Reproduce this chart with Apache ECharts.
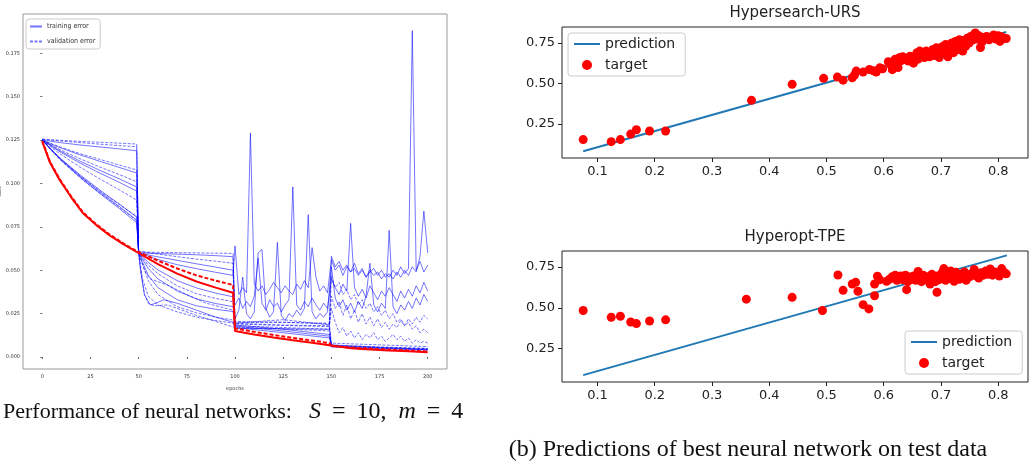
<!DOCTYPE html>
<html>
<head>
<meta charset="utf-8">
<script src="https://cdn.jsdelivr.net/npm/echarts@6.0.0/dist/echarts.min.js"></script>
<style>html,body{margin:0;padding:0;background:#fff}#chart{width:1030px;height:470px}</style>
</head>
<body>
<div id="chart"></div>
<script>
// ---- left panel: cost per epoch, [epoch, cost] ----
const train1 = [[0,0.125],[5,0.1242],[10,0.1234],[20,0.1221],[30,0.1210],[40,0.1199],[49,0.1188],[50,0.0600],[60,0.0596],[70,0.0593],[80,0.0589],[90,0.0584],[99,0.0578],[100,0.0185],[125,0.0160],[149,0.0130],[150,0.0070],[175,0.0056],[200,0.0045]]
const train2 = [[0,0.125],[5,0.1225],[10,0.1203],[20,0.1163],[30,0.1127],[40,0.1092],[49,0.1060],[50,0.0600],[55,0.0588],[60,0.0577],[70,0.0557],[80,0.0537],[90,0.0518],[99,0.0500],[100,0.0170],[125,0.0140],[149,0.0110],[150,0.0060],[175,0.0049],[200,0.0040]]
const train3 = [[0,0.125],[5,0.1215],[10,0.1183],[20,0.1126],[30,0.1075],[40,0.1026],[49,0.0980],[50,0.0600],[55,0.0580],[60,0.0562],[70,0.0532],[80,0.0509],[90,0.0488],[99,0.0470]]
const train4 = [[0,0.125],[5,0.1212],[10,0.1177],[20,0.1115],[30,0.1059],[40,0.1006],[49,0.0956],[50,0.0600],[55,0.0545],[60,0.0502],[70,0.0440],[80,0.0398],[90,0.0368],[99,0.0347]]
const train5 = [[0,0.125],[5,0.1192],[10,0.1139],[20,0.1046],[30,0.0961],[40,0.0881],[49,0.0806],[50,0.0600],[51,0.0500],[53,0.0360],[56,0.0300],[59,0.0310],[63,0.0330],[70,0.0310],[80,0.0270],[90,0.0230],[99,0.0200],[100,0.0165],[125,0.0163],[149,0.0160]]
const train6 = [[0,0.125],[5,0.1190],[10,0.1135],[20,0.1038],[30,0.0950],[40,0.0867],[49,0.0789],[50,0.0600],[55,0.0510],[60,0.0450],[70,0.0380],[80,0.0335],[90,0.0308],[99,0.0290]]
const train7 = [[0,0.125],[5,0.1188],[10,0.1131],[20,0.1031],[30,0.0941],[40,0.0855],[49,0.0774],[50,0.0600],[55,0.0470],[60,0.0400],[70,0.0330],[80,0.0295],[90,0.0275],[99,0.0262],[100,0.0178],[125,0.0150],[149,0.0120],[150,0.0065],[175,0.0053],[200,0.0042]]

const valid1 = [[0,0.1255],[5,0.1251],[10,0.1248],[20,0.1242],[30,0.1237],[40,0.1232],[49,0.1227],[50,0.0605],[60,0.0603],[70,0.0601],[80,0.0600],[90,0.0598],[99,0.0597],[100,0.0198],[125,0.0200],[149,0.0190],[150,0.0080],[175,0.0070],[200,0.0060]]
const valid2 = [[0,0.1255],[5,0.1249],[10,0.1244],[20,0.1235],[30,0.1226],[40,0.1218],[49,0.1211],[50,0.0610],[55,0.0601],[60,0.0593],[70,0.0578],[80,0.0564],[90,0.0552],[99,0.0540],[100,0.0205],[125,0.0200],[149,0.0195]]
const valid3 = [[0,0.125],[5,0.1228],[10,0.1207],[20,0.1170],[30,0.1138],[40,0.1106],[49,0.1077],[50,0.0600],[55,0.0530],[60,0.0480],[70,0.0410],[80,0.0365],[90,0.0337],[99,0.0319],[100,0.0190],[125,0.0182],[149,0.0175],[150,0.0068],[175,0.0058],[200,0.0050]]
const valid4 = [[0,0.125],[5,0.1219],[10,0.1190],[20,0.1140],[30,0.1094],[40,0.1051],[49,0.1010],[50,0.0600],[53,0.0500],[56,0.0450],[61,0.0430],[66,0.0410],[75,0.0360],[85,0.0310],[99,0.0270],[100,0.0195],[112,0.0205],[125,0.0215],[137,0.0200],[149,0.0185]]
const valid5 = [[0,0.125],[5,0.1205],[10,0.1164],[20,0.1091],[30,0.1025],[40,0.0963],[49,0.0904],[50,0.0600],[55,0.0440],[60,0.0360],[70,0.0290],[80,0.0255],[90,0.0230],[99,0.0213],[100,0.0180],[125,0.0170],[149,0.0160],[150,0.0062],[175,0.0055],[200,0.0048]]
const valid6 = [[0,0.125],[5,0.1190],[10,0.1135],[20,0.1040],[30,0.0955],[40,0.0878],[49,0.0810],[50,0.0600],[52,0.0450],[55,0.0350],[60,0.0300],[70,0.0260],[80,0.0230],[90,0.0210],[99,0.0195],[100,0.0188],[125,0.0184],[149,0.0180]]
const valid7 = [[0,0.125],[5,0.1186],[10,0.1128],[20,0.1030],[30,0.0943],[40,0.0862],[49,0.0785],[50,0.0600],[51,0.0500],[53,0.0360],[55,0.0310],[58,0.0295],[65,0.0300],[80,0.0240],[99,0.0173],[100,0.0175],[125,0.0162],[149,0.0150],[150,0.0058],[175,0.0050],[200,0.0044]]

// noisy parts, one value every 2 epochs
const noise3a = [0.064,0.036,0.040,0.037,0.129,0.042,0.038,0.041,0.036,0.039,0.043,0.040,0.037,0.041,0.038,0.036,0.042,0.039,0.044,0.040,0.063,0.046,0.038,0.041,0.037]
const noise3b = [0.056,0.050,0.053,0.047,0.052,0.049,0.054,0.048,0.051,0.046,0.050,0.047,0.049,0.045,0.048,0.046,0.050,0.047,0.052,0.048,0.051,0.188,0.050,0.055,0.049,0.053]
const noise4a = [0.030,0.034,0.028,0.032,0.029,0.035,0.057,0.031,0.027,0.033,0.029,0.031,0.026,0.030,0.033,0.098,0.030,0.027,0.032,0.029,0.034,0.030,0.027,0.031,0.028]
const noise4b = [0.045,0.040,0.036,0.042,0.038,0.077,0.040,0.035,0.039,0.034,0.041,0.037,0.033,0.038,0.035,0.040,0.036,0.032,0.038,0.034,0.039,0.035,0.041,0.037,0.043,0.038]
const noise5b = [0.058,0.052,0.055,0.050,0.053,0.049,0.051,0.047,0.050,0.046,0.049,0.051,0.047,0.050,0.046,0.048,0.045,0.049,0.046,0.050,0.047,0.052,0.049,0.058,0.084,0.060]
const noise6a = [0.022,0.027,0.046,0.025,0.022,0.026,0.060,0.062,0.028,0.023,0.026,0.066,0.024,0.021,0.025,0.023,0.027,0.024,0.028,0.082,0.026,0.022,0.025,0.023,0.026]
const noise6b = [0.052,0.034,0.029,0.033,0.027,0.031,0.026,0.032,0.028,0.035,0.054,0.030,0.026,0.031,0.028,0.073,0.029,0.025,0.030,0.027,0.032,0.028,0.034,0.030,0.036,0.032]
const noiseV2 = [0.047,0.040,0.043,0.036,0.039,0.033,0.036,0.030,0.033,0.028,0.031,0.026,0.029,0.024,0.027,0.022,0.025,0.020,0.022,0.018,0.020,0.016,0.018,0.014,0.016,0.014]
const noiseV4 = [0.035,0.028,0.032,0.024,0.030,0.022,0.027,0.020,0.025,0.019,0.023,0.018,0.022,0.017,0.020,0.016,0.019,0.017,0.021,0.018,0.022,0.019,0.023,0.020,0.024,0.022]
const noiseV6 = [0.028,0.020,0.014,0.017,0.012,0.015,0.011,0.014,0.010,0.013,0.011,0.014,0.010,0.012,0.009,0.011,0.013,0.010,0.012,0.009,0.011,0.008,0.010,0.008,0.009,0.008]

const bestTrain = [[0,0.1240],[4,0.1120],[9,0.1020],[15,0.0920],[21,0.0830],[28,0.0760],[35,0.0700],[42,0.0650],[49,0.0605],[50,0.0600],[60,0.0535],[70,0.0480],[80,0.0435],[90,0.0400],[99,0.0370],[100,0.0150],[110,0.0130],[120,0.0112],[130,0.0096],[140,0.0082],[149,0.0068],[150,0.0058],[160,0.0050],[170,0.0044],[180,0.0038],[190,0.0033],[200,0.0028]]
const bestValid = [[0,0.1245],[4,0.1125],[9,0.1025],[15,0.0925],[21,0.0835],[28,0.0765],[35,0.0705],[42,0.0655],[49,0.0610],[50,0.0610],[60,0.0555],[70,0.0510],[80,0.0470],[90,0.0440],[99,0.0415],[100,0.0165],[110,0.0145],[120,0.0127],[130,0.0110],[140,0.0095],[149,0.0080],[150,0.0062],[160,0.0055],[170,0.0048],[180,0.0042],[190,0.0037],[200,0.0032]]

const epochTicks = [0, 25, 50, 75, 100, 125, 150, 175, 200]
const costTicks = [0, 0.025, 0.05, 0.075, 0.1, 0.125, 0.15, 0.175]

// ---- right panels: [x, y] ----
const ursTarget = [[0.075,0.152],[0.124,0.139],[0.140,0.152],[0.158,0.186],[0.168,0.213],[0.191,0.205],[0.219,0.205],[0.369,0.395],[0.440,0.494],[0.495,0.531],[0.519,0.539],[0.529,0.520],[0.545,0.535],[0.549,0.552],[0.552,0.576],[0.564,0.570],[0.575,0.586],[0.582,0.578],[0.587,0.570],[0.593,0.596],[0.598,0.590],
  [0.608,0.634],[0.612,0.615],[0.615,0.585],[0.618,0.605],[0.620,0.650],[0.622,0.628],[0.625,0.598],[0.628,0.660],[0.630,0.640],[0.633,0.665],[0.636,0.648],[0.640,0.655],[0.643,0.638],[0.646,0.668],[0.650,0.645],[0.652,0.625],[0.655,0.662],[0.658,0.690],[0.660,0.650],[0.663,0.700],[0.666,0.675],[0.668,0.690],[0.671,0.660],[0.674,0.700],[0.677,0.682],[0.680,0.665],[0.683,0.695],[0.686,0.710],[0.689,0.672],[0.692,0.720],[0.695,0.690],[0.697,0.660],[0.700,0.705],[0.703,0.728],[0.705,0.690],[0.708,0.740],[0.710,0.715],[0.712,0.665],[0.715,0.700],[0.718,0.748],[0.720,0.725],[0.722,0.690],[0.725,0.760],[0.727,0.735],[0.730,0.710],[0.732,0.770],[0.735,0.745],[0.738,0.700],[0.740,0.765],[0.743,0.730],[0.746,0.780],[0.749,0.750],[0.752,0.790],[0.755,0.768],[0.758,0.805],[0.760,0.812],[0.763,0.775],[0.766,0.795],[0.769,0.722],[0.772,0.758],[0.776,0.785],[0.780,0.790],[0.784,0.770],[0.788,0.782],[0.792,0.800],[0.796,0.775],[0.800,0.795],[0.803,0.760],[0.806,0.788],[0.810,0.780],[0.814,0.778]]
const ursPrediction = [[0.075,0.080],[0.814,0.818]]

const tpeTarget = [[0.075,0.483],[0.124,0.442],[0.140,0.448],[0.158,0.413],[0.168,0.403],[0.191,0.419],[0.219,0.426],[0.360,0.553],[0.440,0.564],[0.493,0.483],[0.520,0.701],[0.529,0.607],[0.545,0.646],[0.551,0.656],[0.555,0.601],[0.564,0.519],[0.574,0.493],[0.584,0.574],[0.584,0.646],[0.589,0.693],[0.593,0.672],[0.640,0.611],[0.693,0.595],
  [0.605,0.662],[0.610,0.675],[0.615,0.690],[0.620,0.700],[0.623,0.668],[0.626,0.685],[0.630,0.695],[0.634,0.672],[0.638,0.700],[0.642,0.660],[0.645,0.688],[0.648,0.675],[0.652,0.695],[0.656,0.668],[0.660,0.722],[0.663,0.685],[0.666,0.660],[0.669,0.700],[0.672,0.678],[0.675,0.690],[0.678,0.665],[0.681,0.645],[0.684,0.705],[0.687,0.680],[0.690,0.660],[0.693,0.695],[0.696,0.672],[0.699,0.688],[0.702,0.715],[0.705,0.740],[0.708,0.668],[0.711,0.700],[0.714,0.680],[0.717,0.725],[0.720,0.690],[0.723,0.662],[0.726,0.718],[0.729,0.695],[0.732,0.675],[0.735,0.705],[0.738,0.685],[0.741,0.720],[0.744,0.668],[0.747,0.700],[0.750,0.690],[0.754,0.710],[0.758,0.735],[0.762,0.695],[0.766,0.682],[0.770,0.715],[0.774,0.700],[0.778,0.725],[0.782,0.705],[0.786,0.738],[0.790,0.700],[0.794,0.720],[0.798,0.710],[0.802,0.695],[0.806,0.740],[0.810,0.718],[0.814,0.708]]
const tpePrediction = [[0.075,0.087],[0.815,0.821]]

const xTicksR = [0.1, 0.2, 0.3, 0.4, 0.5, 0.6, 0.7, 0.8]
const yTicksR = [0.25, 0.5, 0.75]

// helpers
const seg = (start, vals) => vals.map((v, i) => [start + 2 * i, v])

const chart = echarts.init(document.getElementById('chart'))

function runSeries(name, data, dashed) {
  return {
    name: name, type: 'line', xAxisIndex: 0, yAxisIndex: 0, data: data,
    symbol: 'none', silent: true, color: '#0000ff',
    lineStyle: { color: '#0000ff', width: 1, opacity: 0.55, type: dashed ? [3, 1.5] : 'solid' }
  }
}
function bestSeries(name, data, dashed) {
  return {
    name: name, type: 'line', xAxisIndex: 0, yAxisIndex: 0, data: data, z: 5,
    symbol: 'none', silent: true, color: '#ff0000',
    lineStyle: { color: '#ff0000', width: 2, type: dashed ? [4, 2] : 'solid' }
  }
}

const T = 'training error', V = 'validation error'
const series = [
  runSeries(T, train1), runSeries(T, train2),
  runSeries(T, train3.concat(seg(100, noise3a), seg(150, noise3b))),
  runSeries(T, train4.concat(seg(100, noise4a), seg(150, noise4b))),
  runSeries(T, train5.concat(seg(150, noise5b))),
  runSeries(T, train6.concat(seg(100, noise6a), seg(150, noise6b))),
  runSeries(T, train7),
  runSeries(V, valid1, true),
  runSeries(V, valid2.concat(seg(150, noiseV2)), true),
  runSeries(V, valid3, true),
  runSeries(V, valid4.concat(seg(150, noiseV4)), true),
  runSeries(V, valid5, true),
  runSeries(V, valid6.concat(seg(150, noiseV6)), true),
  runSeries(V, valid7, true),
  bestSeries('best training', bestTrain),
  bestSeries('best validation', bestValid, true)
]

;[[1, ursPrediction, ursTarget], [2, tpePrediction, tpeTarget]].forEach(([g, pred, tgt]) => {
  series.push({
    name: 'prediction', type: 'line', xAxisIndex: g, yAxisIndex: g, data: pred,
    symbol: 'none', color: '#1f77b4', lineStyle: { color: '#1f77b4', width: 2 }
  })
  series.push({
    name: 'target', type: 'scatter', xAxisIndex: g, yAxisIndex: g, data: tgt,
    symbolSize: 9, color: '#ff0000', itemStyle: { color: '#ff0000', opacity: 1 }, z: 4
  })
})

const smallLabel = { fontFamily: 'DejaVu Sans', fontSize: 5, color: '#333' }
const rightLabel = { fontFamily: 'DejaVu Sans', fontSize: 13, color: '#222' }

function rightX(g) {
  return {
    type: 'value', gridIndex: g, min: 0.038, max: 0.852,
    axisLine: { show: false }, splitLine: { show: false },
    axisTick: { show: true, inside: false, length: 4, customValues: xTicksR, lineStyle: { color: '#222' } },
    axisLabel: Object.assign({ margin: 7, customValues: xTicksR, formatter: v => v.toFixed(1) }, rightLabel)
  }
}
function rightY(g, min, max) {
  return {
    type: 'value', gridIndex: g, min: min, max: max,
    axisLine: { show: false }, splitLine: { show: false },
    axisTick: { show: true, inside: false, length: 4, customValues: yTicksR, lineStyle: { color: '#222' } },
    axisLabel: Object.assign({ margin: 7, customValues: yTicksR, formatter: v => v.toFixed(2) }, rightLabel)
  }
}

const legendBase = {
  orient: 'vertical', borderColor: '#ccc', borderWidth: 1, borderRadius: 3,
  backgroundColor: 'rgba(255,255,255,0.8)', selectedMode: false
}
const noDot = { opacity: 0 }
const predTarget = [{ name: 'prediction', itemStyle: noDot }, { name: 'target' }]

const serif = { fontFamily: 'Liberation Serif', fontSize: 24, fill: '#111' }

const option = {
  animation: false,
  grid: [
    { left: 23, top: 14, width: 424, height: 355, show: true, borderColor: '#999', borderWidth: 1, outerBoundsMode: 'none' },
    { left: 562, top: 27, width: 466, height: 131, show: true, borderColor: '#222', borderWidth: 1, outerBoundsMode: 'none' },
    { left: 562, top: 251, width: 466, height: 131, show: true, borderColor: '#222', borderWidth: 1, outerBoundsMode: 'none' }
  ],
  xAxis: [
    {
      type: 'value', gridIndex: 0, min: -10, max: 210,
      name: 'epochs', nameLocation: 'middle', nameGap: 17, nameTextStyle: smallLabel,
      axisLine: { show: false }, splitLine: { show: false },
      axisTick: { show: true, length: 2, customValues: epochTicks, lineStyle: { color: '#666' } },
      axisLabel: Object.assign({ margin: 5, customValues: epochTicks }, smallLabel)
    },
    rightX(1), rightX(2)
  ],
  yAxis: [
    {
      type: 'value', gridIndex: 0, min: -0.0069, max: 0.1976,
      name: 'cost', nameLocation: 'middle', nameGap: 14, nameRotate: 90, nameTextStyle: smallLabel,
      axisLine: { show: false }, splitLine: { show: false },
      axisTick: { show: true, length: 2, customValues: costTicks, lineStyle: { color: '#666' } },
      axisLabel: Object.assign({ margin: 3, customValues: costTicks, formatter: v => v.toFixed(3) }, smallLabel)
    },
    rightY(1, 0.038, 0.849), rightY(2, 0.045, 0.848)
  ],
  legend: [
    Object.assign({}, legendBase, {
      data: [{ name: T, itemStyle: noDot }, { name: V, itemStyle: noDot }],
      left: 26, top: 19, padding: [4, 5, 4, 3], itemWidth: 12, itemHeight: 6, itemGap: 8,
      textStyle: { fontFamily: 'DejaVu Sans Condensed', fontSize: 7, color: '#333' }
    }),
    Object.assign({}, legendBase, {
      data: predTarget, left: 568, top: 33, padding: [4, 10, 4, 5], itemWidth: 26, itemHeight: 10, itemGap: 7,
      textStyle: { fontFamily: 'DejaVu Sans', fontSize: 14, color: '#222' }
    }),
    Object.assign({}, legendBase, {
      data: predTarget, left: 905, top: 331, padding: [4, 10, 4, 5], itemWidth: 26, itemHeight: 10, itemGap: 7,
      textStyle: { fontFamily: 'DejaVu Sans', fontSize: 14, color: '#222' }
    })
  ],
  graphic: [
    { type: 'text', x: 795, y: 13, style: { text: 'Hypersearch-URS', fontFamily: 'DejaVu Sans', fontSize: 15, fill: '#222', textAlign: 'center', textVerticalAlign: 'middle' } },
    { type: 'text', x: 795, y: 237, style: { text: 'Hyperopt-TPE', fontFamily: 'DejaVu Sans', fontSize: 15, fill: '#222', textAlign: 'center', textVerticalAlign: 'middle' } },
    {
      type: 'text', x: 3, y: 412,
      style: {
        text: 'Performance of neural networks:{s|S}{e|=}{m|10,}{t|m}{e|=}{m|4}',
        fontFamily: 'Liberation Serif', fontSize: 22, fill: '#111', textVerticalAlign: 'middle',
        rich: {
          s: Object.assign({ fontStyle: 'italic', padding: [0, 0, 0, 17] }, serif),
          t: Object.assign({ fontStyle: 'italic', padding: [0, 0, 0, 12] }, serif),
          e: Object.assign({ padding: [0, 11, 0, 11] }, serif),
          m: serif
        }
      }
    },
    { type: 'text', x: 748, y: 450, style: { text: '(b) Predictions of best neural network on test data', fontFamily: 'Liberation Serif', fontSize: 24, fill: '#111', textAlign: 'center', textVerticalAlign: 'middle' } }
  ],
  series: series
}

chart.setOption(option)
</script>
</body>
</html>
